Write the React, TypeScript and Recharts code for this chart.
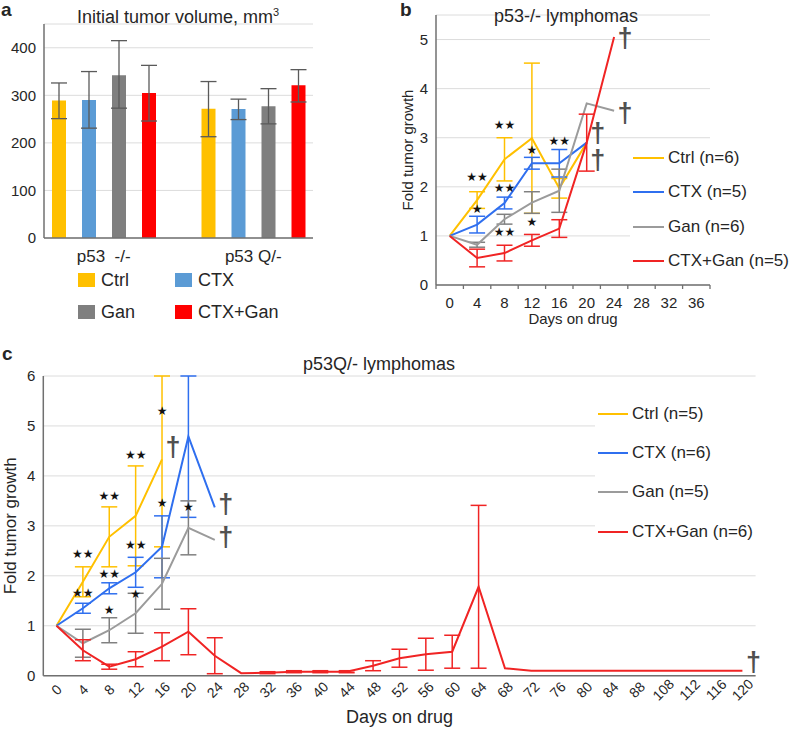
import React from "react";
import { BarChart, Bar, LineChart, Line, XAxis, YAxis, CartesianGrid, ErrorBar, Legend, ReferenceDot } from "recharts";

const FONT = '"Liberation Sans", Arial, sans-serif';
const INK = "#262626";
const AXIS = "#707070";
const GRID = "#dcdcdc";

const CTRL = "#FFC000";
const CTX_BAR = "#5B9BD5";
const GAN_BAR = "#7F7F7F";
const RED_BAR = "#FF0000";
const CTX_LINE = "#2F6FEF";
const GAN_LINE = "#9B9B9B";
const RED_LINE = "#F02424";

// a: initial tumor volume, mm3 (mean, [below, above] error)
const groups = ["p53\u00a0 -/-", "p53 Q/-"];
const volNames = ["Ctrl", "CTX", "Gan", "CTX+Gan"];
const ctrlVol = [289, 272];
const ctrlVolErr = [[38, 37], [59, 57]];
const ctxVol = [290, 271];
const ctxVolErr = [[59, 60], [22, 21]];
const ganVol = [342, 277];
const ganVolErr = [[69, 73], [37, 37]];
const comboVol = [305, 321];
const comboVolErr = [[59, 58], [35, 33]];

// b: p53-/- lymphomas, fold growth (+/- error)
const namesB = ["Ctrl (n=6)", "CTX (n=5)", "Gan (n=6)", "CTX+Gan (n=5)"];
const daysB = [0, 4, 8, 12, 16, 20, 24, 28, 32, 36];
const ctrlB = [1, 1.73, 2.56, 2.99, 1.97, 2.9];
const ctrlErrB = [null, 0.17, 0.44, 1.53, 0.2];
const ctxB = [1, 1.23, 1.67, 2.48, 2.48, 2.9];
const ctxErrB = [null, 0.17, 0.12, 0.12, 0.28];
const ganB = [1, 0.82, 1.34, 1.68, 1.92, 3.7, 3.55];
const ganErrB = [null, 0.05, 0.1, 0.22, 0.44];
const comboB = [1, 0.55, 0.65, 0.91, 1.15, 2.9, 5.05];
const comboErrB = [null, 0.18, 0.16, 0.12, 0.18, 0.58];
const starsB = [
  { day: 4, v: 2.19, t: "★★" },
  { day: 4, v: 1.54, t: "★" },
  { day: 8, v: 3.26, t: "★★" },
  { day: 8, v: 1.97, t: "★★" },
  { day: 8, v: 1.07, t: "★★" },
  { day: 12, v: 2.76, t: "★" },
  { day: 12, v: 1.28, t: "★" },
  { day: 16, v: 2.93, t: "★★" },
];
const crossesB = [
  { day: 24, v: 5.03 },
  { day: 24, v: 3.5 },
  { day: 20, v: 3.09 },
  { day: 20, v: 2.55 },
];

// c: p53Q/- lymphomas (error bars that run off the top stop at 6)
const namesC = ["Ctrl (n=5)", "CTX (n=6)", "Gan (n=5)", "CTX+Gan (n=6)"];
const daysC = [0, 4, 8, 12, 16, 20, 24, 28, 32, 36, 40, 44, 48, 52, 56, 60, 64, 68, 72, 76, 80, 84, 88, 108, 112, 116, 120];
const ctrlC = [1, 1.88, 2.78, 3.2, 4.33];
const ctrlErrC = [null, 0.3, 0.6, 1.0, [1.75, 1.67]];
const ctxC = [1, 1.35, 1.75, 2.07, 2.58, 4.79, 3.37];
const ctxErrC = [null, 0.1, 0.11, 0.3, 0.62, [1.62, 1.21]];
const ganC = [1, 0.65, 0.91, 1.25, 1.84, 2.96, 2.72];
const ganErrC = [null, 0.28, 0.25, 0.4, 0.51, 0.54];
const comboC = [1, 0.51, 0.18, 0.33, 0.58, 0.88, 0.4, 0.05, 0.06, 0.08, 0.08, 0.08, 0.2, 0.35, 0.43, 0.48, 1.78, 0.15, 0.1, 0.1, 0.1, 0.1, 0.1, 0.1, 0.1, 0.1, 0.1];
const comboErrC = [null, 0.21, 0.05, 0.15, 0.28, 0.46, 0.36, null, 0.02, 0.02, 0.02, 0.02, 0.1, 0.18, 0.32, 0.33, 1.63];
const starsC = [
  { day: 4, v: 2.44, t: "★★" },
  { day: 4, v: 1.65, t: "★★" },
  { day: 8, v: 3.6, t: "★★" },
  { day: 8, v: 2.04, t: "★★" },
  { day: 8, v: 1.32, t: "★" },
  { day: 12, v: 4.42, t: "★★" },
  { day: 12, v: 2.62, t: "★★" },
  { day: 12, v: 1.63, t: "★" },
  { day: 16, v: 5.3, t: "★" },
  { day: 16, v: 3.45, t: "★" },
  { day: 20, v: 3.37, t: "★" },
];
const crossesC = [
  { day: 16, v: 4.58 },
  { day: 24, v: 3.44 },
  { day: 24, v: 2.77 },
  { day: 120, v: 0.28 },
];

const volRows = groups.map((group, i) => ({
  group,
  ctrl: ctrlVol[i], ctrlErr: ctrlVolErr[i],
  ctx: ctxVol[i], ctxErr: ctxVolErr[i],
  gan: ganVol[i], ganErr: ganVolErr[i],
  combo: comboVol[i], comboErr: comboVolErr[i],
}));

const rowsB = daysB.map((day, i) => ({
  day,
  ctrl: ctrlB[i], ctrlErr: ctrlErrB[i],
  ctx: ctxB[i], ctxErr: ctxErrB[i],
  gan: ganB[i], ganErr: ganErrB[i],
  combo: comboB[i], comboErr: comboErrB[i],
}));

const rowsC = daysC.map((day, i) => ({
  day,
  ctrl: ctrlC[i], ctrlErr: ctrlErrC[i],
  ctx: ctxC[i], ctxErr: ctxErrC[i],
  gan: ganC[i], ganErr: ganErrC[i],
  combo: comboC[i], comboErr: comboErrC[i],
}));

const starShape = (t: string) => (p: any) => (
  <text x={p.cx} y={p.cy} dominantBaseline="central" textAnchor="middle" fontFamily="DejaVu Sans" fontSize={12} fill="#111">
    {t}
  </text>
);

const crossShape = (p: any) => (
  <text x={p.cx + 11} y={p.cy} dominantBaseline="central" textAnchor="middle" fontFamily={FONT} fontWeight="bold" fontSize={27} fill="#505050">
    †
  </text>
);

// legend items in the order given, not alphabetical
const ordered = (payload: any[] = [], order: string[]) =>
  [...payload].sort((a, b) => order.indexOf(a.value) - order.indexOf(b.value));

function LineKey({ payload, order, rowHeight, fontSize, lineWidth }: any) {
  return (
    <div style={{ background: "#fff", fontFamily: FONT, fontSize, color: INK }}>
      {ordered(payload, order).map((item: any) => (
        <div key={item.value} style={{ display: "flex", alignItems: "center", height: rowHeight }}>
          <span style={{ display: "inline-block", width: lineWidth, height: 2, background: item.color, marginLeft: 3, marginRight: 4 }} />
          <span>{item.value}</span>
        </div>
      ))}
    </div>
  );
}

function BoxKey({ payload, order }: any) {
  return (
    <div style={{ display: "grid", gridTemplateColumns: "97px 130px", fontFamily: FONT, fontSize: 18, color: INK }}>
      {ordered(payload, order).map((item: any) => (
        <div key={item.value} style={{ display: "flex", alignItems: "center", height: 32 }}>
          <span style={{ display: "inline-block", width: 17, height: 14, background: item.color, marginRight: 6 }} />
          <span>{item.value}</span>
        </div>
      ))}
    </div>
  );
}

// b's day axis: label plus small marks on the category boundaries
const HALF_BAND_B = 13.7;
function BoundaryTick({ x, y, payload, index }: any) {
  const axisY = y - 12;
  return (
    <g>
      <line x1={x - HALF_BAND_B} x2={x - HALF_BAND_B} y1={axisY} y2={axisY + 4} stroke={AXIS} strokeWidth={1.3} />
      {index === daysB.length - 1 && (
        <line x1={x + HALF_BAND_B} x2={x + HALF_BAND_B} y1={axisY} y2={axisY + 4} stroke={AXIS} strokeWidth={1.3} />
      )}
      <text x={x} y={y} dy="0.71em" textAnchor="middle" fontFamily={FONT} fontSize={15} fill={INK}>
        {payload.value}
      </text>
    </g>
  );
}

function SlantTick({ x, y, payload }: any) {
  const cy = y + 6;
  return (
    <text x={x} y={cy} transform={`rotate(-45 ${x} ${cy})`} textAnchor="middle" dominantBaseline="central" fontFamily={FONT} fontSize={14} fill={INK}>
      {payload.value}
    </text>
  );
}

function PanelA() {
  return (
    <div style={{ position: "absolute", left: 0, top: 0 }}>
      <BarChart width={320} height={330} data={volRows} margin={{ top: 24, right: 7, left: 0, bottom: 62 }} barSize={14} barGap={16}>
        <CartesianGrid vertical={false} stroke={GRID} />
        <XAxis dataKey="group" tickLine={false} axisLine={{ stroke: AXIS, strokeWidth: 1.5 }} height={30} padding={{ left: -15, right: -15 }} tickMargin={6} tick={{ fontSize: 17, fill: INK, fontFamily: FONT }} />
        <YAxis domain={[0, 450]} ticks={[0, 100, 200, 300, 400]} width={44} tickLine={false} axisLine={{ stroke: AXIS, strokeWidth: 1.5 }} tick={{ fontSize: 15, fill: INK, fontFamily: FONT }} />
        <Legend layout="horizontal" verticalAlign="middle" align="center" wrapperStyle={{ left: 78, top: 264, width: 240 }} content={<BoxKey order={volNames} />} />
        <Bar dataKey="ctrl" name="Ctrl" fill={CTRL} isAnimationActive={false}>
          <ErrorBar dataKey="ctrlErr" direction="y" width={8} stroke="#5a5a5a" strokeWidth={1.3} />
        </Bar>
        <Bar dataKey="ctx" name="CTX" fill={CTX_BAR} isAnimationActive={false}>
          <ErrorBar dataKey="ctxErr" direction="y" width={8} stroke="#5a5a5a" strokeWidth={1.3} />
        </Bar>
        <Bar dataKey="gan" name="Gan" fill={GAN_BAR} isAnimationActive={false}>
          <ErrorBar dataKey="ganErr" direction="y" width={8} stroke="#5a5a5a" strokeWidth={1.3} />
        </Bar>
        <Bar dataKey="combo" name="CTX+Gan" fill={RED_BAR} isAnimationActive={false}>
          <ErrorBar dataKey="comboErr" direction="y" width={8} stroke="#5a5a5a" strokeWidth={1.3} />
        </Bar>
      </BarChart>
    </div>
  );
}

function PanelB() {
  return (
    <div style={{ position: "absolute", left: 400, top: 0 }}>
      <LineChart width={395} height={330} data={rowsB} margin={{ top: 15, right: 85, left: 0, bottom: 0 }}>
        <CartesianGrid vertical={false} stroke={GRID} />
        <XAxis dataKey="day" interval={0} height={45} padding={{ left: HALF_BAND_B, right: HALF_BAND_B }} tickLine={false} axisLine={{ stroke: AXIS, strokeWidth: 1.5 }} tickMargin={6} tick={(p: any) => <BoundaryTick {...p} />}
          label={{ value: "Days on drug", position: "insideBottom", offset: 6, fontSize: 15, fill: INK, fontFamily: FONT }} />
        <YAxis domain={[0, 5.5]} ticks={[0, 1, 2, 3, 4, 5]} width={36} tickLine={false} axisLine={{ stroke: AXIS, strokeWidth: 1.5 }} tick={{ fontSize: 15, fill: INK, fontFamily: FONT }}
          label={{ value: "Fold tumor growth", angle: -90, position: "insideLeft", offset: 8, fontSize: 15, fill: INK, fontFamily: FONT, style: { textAnchor: "middle" } }} />
        <Legend layout="horizontal" verticalAlign="middle" align="center" wrapperStyle={{ left: 230, top: 141, width: 165 }} content={<LineKey order={namesB} rowHeight={34.3} fontSize={17} lineWidth={31} />} />
        <Line dataKey="ctrl" name={namesB[0]} stroke={CTRL} strokeWidth={2} dot={false} activeDot={false} isAnimationActive={false}>
          <ErrorBar dataKey="ctrlErr" direction="y" width={8} stroke={CTRL} strokeWidth={1.5} />
        </Line>
        <Line dataKey="ctx" name={namesB[1]} stroke={CTX_LINE} strokeWidth={2} dot={false} activeDot={false} isAnimationActive={false}>
          <ErrorBar dataKey="ctxErr" direction="y" width={8} stroke={CTX_LINE} strokeWidth={1.5} />
        </Line>
        <Line dataKey="gan" name={namesB[2]} stroke={GAN_LINE} strokeWidth={2} dot={false} activeDot={false} isAnimationActive={false}>
          <ErrorBar dataKey="ganErr" direction="y" width={8} stroke={"#808080"} strokeWidth={1.5} />
        </Line>
        <Line dataKey="combo" name={namesB[3]} stroke={RED_LINE} strokeWidth={2} dot={false} activeDot={false} isAnimationActive={false}>
          <ErrorBar dataKey="comboErr" direction="y" width={8} stroke={RED_LINE} strokeWidth={1.5} />
        </Line>
        {starsB.map((s, i) => (
          <ReferenceDot key={"s" + i} x={s.day} y={s.v} r={0} ifOverflow="visible" shape={starShape(s.t)} />
        ))}
        {crossesB.map((c, i) => (
          <ReferenceDot key={"c" + i} x={c.day} y={c.v} r={0} ifOverflow="visible" shape={crossShape} />
        ))}
      </LineChart>
    </div>
  );
}

function PanelC() {
  return (
    <div style={{ position: "absolute", left: 0, top: 320 }}>
      <LineChart width={795} height={409} data={rowsC} margin={{ top: 56, right: 39.4, left: 0, bottom: 0 }}>
        <CartesianGrid vertical={false} stroke={GRID} />
        <XAxis dataKey="day" interval={0} height={53.3} padding={{ left: 13.19, right: 13.19 }} tickLine={false} axisLine={{ stroke: AXIS, strokeWidth: 1.5 }} tick={(p: any) => <SlantTick {...p} />}
          label={{ value: "Days on drug", position: "insideBottom", offset: 6, fontSize: 18, fill: INK, fontFamily: FONT }} />
        <YAxis domain={[0, 6]} ticks={[0, 1, 2, 3, 4, 5, 6]} allowDataOverflow width={43.3} tickLine={false} axisLine={{ stroke: AXIS, strokeWidth: 1.5 }} tick={{ fontSize: 15, fill: INK, fontFamily: FONT }}
          label={{ value: "Fold tumor growth", angle: -90, position: "insideLeft", offset: 10, fontSize: 17, fill: INK, fontFamily: FONT, style: { textAnchor: "middle" } }} />
        <Legend layout="horizontal" verticalAlign="middle" align="center" wrapperStyle={{ left: 595, top: 74.4, width: 200 }} content={<LineKey order={namesC} rowHeight={39.2} fontSize={17} lineWidth={30} />} />
        <Line dataKey="ctrl" name={namesC[0]} stroke={CTRL} strokeWidth={2} dot={false} activeDot={false} isAnimationActive={false}>
          <ErrorBar dataKey="ctrlErr" direction="y" width={8} stroke={CTRL} strokeWidth={1.5} />
        </Line>
        <Line dataKey="ctx" name={namesC[1]} stroke={CTX_LINE} strokeWidth={2} dot={false} activeDot={false} isAnimationActive={false}>
          <ErrorBar dataKey="ctxErr" direction="y" width={8} stroke={CTX_LINE} strokeWidth={1.5} />
        </Line>
        <Line dataKey="gan" name={namesC[2]} stroke={GAN_LINE} strokeWidth={2} dot={false} activeDot={false} isAnimationActive={false}>
          <ErrorBar dataKey="ganErr" direction="y" width={8} stroke={"#808080"} strokeWidth={1.5} />
        </Line>
        <Line dataKey="combo" name={namesC[3]} stroke={RED_LINE} strokeWidth={2} dot={false} activeDot={false} isAnimationActive={false}>
          <ErrorBar dataKey="comboErr" direction="y" width={8} stroke={RED_LINE} strokeWidth={1.5} />
        </Line>
        {starsC.map((s, i) => (
          <ReferenceDot key={"s" + i} x={s.day} y={s.v} r={0} ifOverflow="visible" shape={starShape(s.t)} />
        ))}
        {crossesC.map((c, i) => (
          <ReferenceDot key={"c" + i} x={c.day} y={c.v} r={0} ifOverflow="visible" shape={crossShape} />
        ))}
      </LineChart>
    </div>
  );
}

const textAt = (left: number, top: number, size: number, bold = false): React.CSSProperties => ({
  position: "absolute", left, top, fontSize: size, lineHeight: 1, fontWeight: bold ? "bold" : "normal", whiteSpace: "nowrap",
});

export default function App() {
  return (
    <div style={{ position: "absolute", left: 0, top: 0, width: 795, height: 729, background: "#fff", fontFamily: FONT, color: INK, overflow: "hidden" }}>
      <PanelA />
      <PanelB />
      <PanelC />
      <div style={textAt(1, 0, 19, true)}>a</div>
      <div style={textAt(400, 0, 19, true)}>b</div>
      <div style={textAt(2, 344, 19, true)}>c</div>
      <div style={{ ...textAt(178, 7, 18), transform: "translateX(-50%)" }}>
        Initial tumor volume, mm<sup style={{ fontSize: 11 }}>3</sup>
      </div>
      <div style={{ ...textAt(566, 7, 18), transform: "translateX(-50%)" }}>p53-/- lymphomas</div>
      <div style={{ ...textAt(379, 355, 18), transform: "translateX(-50%)" }}>p53Q/- lymphomas</div>
    </div>
  );
}
